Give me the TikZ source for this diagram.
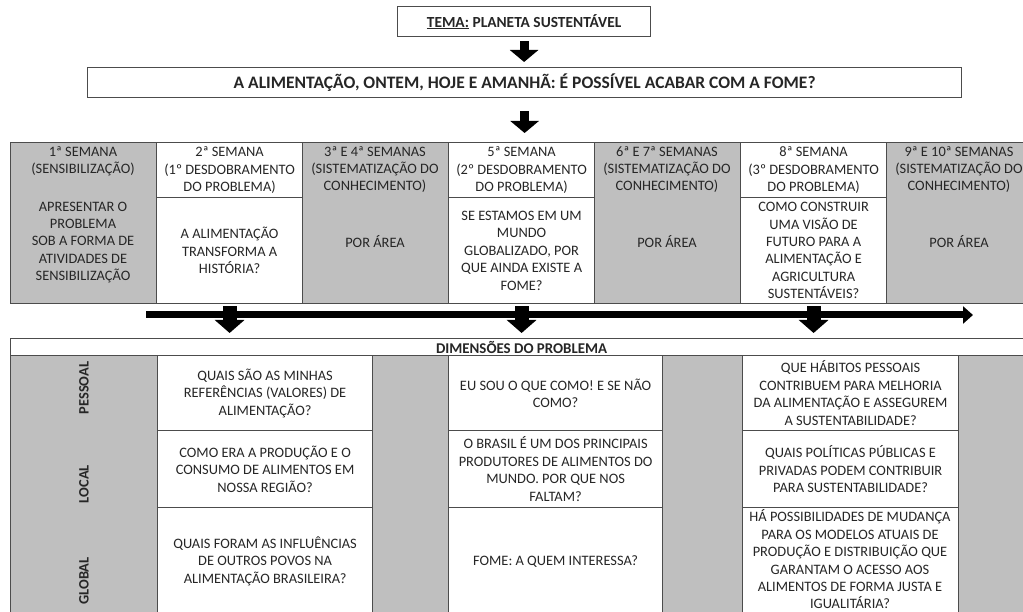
\documentclass[tikz,border=0pt]{standalone}
\usepackage{fontspec}
\setmainfont{Carlito}
\usepackage{xcolor}
\usetikzlibrary{arrows.meta}

\definecolor{cinza}{HTML}{BFBFBF}
\newcommand{\cellfont}{\fontsize{14.4}{17.4}\selectfont}

\begin{document}
\begin{tikzpicture}[x=1pt,y=-1pt,
    every node/.style={font=\cellfont, text=black!85, align=center, inner sep=0pt},
    wcell/.style={draw=black!70, line width=1.2pt, fill=white, anchor=north west},
    gcell/.style={draw=black!70, line width=1.2pt, fill=cinza, anchor=north west},
    bigarrow/.style={line width=9pt, -{Triangle[width=28pt,length=12pt]}},
    downarrow/.style={line width=14pt, -{Triangle[width=29pt,length=13pt]}},
    timeline/.style={line width=7pt, -{Triangle[width=17pt,length=10pt]}}]
    \useasboundingbox (0,0) rectangle (1023,612);
    \clip (0,0) rectangle (1023,612);

    % Theme and main question
    \node[wcell, minimum width=253pt, minimum height=30pt, font=\fontsize{15.4}{18}\selectfont\bfseries] (tema) at (397,6)
        {\underline{TEMA:} PLANETA SUSTENTÁVEL};
    \node[wcell, minimum width=874pt, minimum height=30pt, font=\fontsize{17.5}{20}\selectfont\bfseries] (titulo) at (87,67)
        {A ALIMENTAÇÃO, ONTEM, HOJE E AMANHÃ: É POSSÍVEL ACABAR COM A FOME?};

    % Weeks: gray columns
    \foreach \i/\x in {1/10,3/302,5/594,7/886} {
      \node[gcell, minimum width=146pt, minimum height=161pt] (w\i) at (\x,142) {};
    }
    \node (w1h) at (83,161.5) {1ª SEMANA\\(SENSIBILIZAÇÃO)};
    \node (w1b) at (83,242.5) {APRESENTAR O\\PROBLEMA\\SOB A FORMA DE\\ATIVIDADES DE\\SENSIBILIZAÇÃO};
    \node (w3h) at (375,169.5) {3ª E 4ª SEMANAS\\(SISTEMATIZAÇÃO DO\\CONHECIMENTO)};
    \node (w3b) at (375,242) {POR ÁREA};
    \node (w5h) at (667,169.5) {6ª E 7ª SEMANAS\\(SISTEMATIZAÇÃO DO\\CONHECIMENTO)};
    \node (w5b) at (667,242) {POR ÁREA};
    \node (w7h) at (959,169.5) {9ª E 10ª SEMANAS\\(SISTEMATIZAÇÃO DO\\CONHECIMENTO)};
    \node (w7b) at (959,242) {POR ÁREA};

    % Weeks: white columns (unfolding of the problem)
    \node[wcell, minimum width=146pt, minimum height=55pt] (w2h) at (156,142)
        {2ª SEMANA\\(1º DESDOBRAMENTO\\DO PROBLEMA)};
    \node[wcell, minimum width=146pt, minimum height=106pt] (w2b) at (156,197)
        {A ALIMENTAÇÃO\\TRANSFORMA A\\HISTÓRIA?};
    \node[wcell, minimum width=146pt, minimum height=55pt] (w4h) at (448,142)
        {5ª SEMANA\\(2º DESDOBRAMENTO\\DO PROBLEMA)};
    \node[wcell, minimum width=146pt, minimum height=106pt] (w4b) at (448,197)
        {SE ESTAMOS EM UM\\MUNDO\\GLOBALIZADO, POR\\QUE AINDA EXISTE A\\FOME?};
    \node[wcell, minimum width=146pt, minimum height=55pt] (w6h) at (740,142)
        {8ª SEMANA\\(3º DESDOBRAMENTO\\DO PROBLEMA)};
    \node[wcell, minimum width=146pt, minimum height=106pt] (w6b) at (740,197)
        {COMO CONSTRUIR\\UMA VISÃO DE\\FUTURO PARA A\\ALIMENTAÇÃO E\\AGRICULTURA\\SUSTENTÁVEIS?};

    % Dimensions of the problem
    \node[wcell, minimum width=1022pt, minimum height=17pt, font=\fontsize{14.9}{17.4}\selectfont\bfseries] (dimhead) at (10,338)
        {DIMENSÕES DO PROBLEMA};
    \node[gcell, minimum width=147pt, minimum height=259pt] (dim0) at (10,355) {};
    \node[gcell, minimum width=76pt, minimum height=259pt] (dim1) at (372,355) {};
    \node[gcell, minimum width=80pt, minimum height=259pt] (dim2) at (662,355) {};
    \node[gcell, minimum width=74pt, minimum height=259pt] (dim3) at (958,355) {};

    \node[rotate=90, font=\cellfont\bfseries] (pes) at (84,388) {PESSOAL};
    \node[rotate=90, font=\cellfont\bfseries] (loc) at (84,484) {LOCAL};
    \node[rotate=90, font=\cellfont\bfseries] (glo) at (84,581) {GLOBAL};

    % row: pessoal
    \node[wcell, minimum width=215pt, minimum height=75pt] (pa) at (157,355)
        {QUAIS SÃO AS MINHAS\\REFERÊNCIAS (VALORES) DE\\ALIMENTAÇÃO?};
    \node[wcell, minimum width=214pt, minimum height=75pt] (pb) at (448,355)
        {EU SOU O QUE COMO! E SE NÃO\\COMO?};
    \node[wcell, minimum width=216pt, minimum height=75pt] (pc) at (742,355)
        {QUE HÁBITOS PESSOAIS\\CONTRIBUEM PARA MELHORIA\\DA ALIMENTAÇÃO E ASSEGUREM\\A SUSTENTABILIDADE?};
    % row: local
    \node[wcell, minimum width=215pt, minimum height=77pt] (la) at (157,430)
        {COMO ERA A PRODUÇÃO E O\\CONSUMO DE ALIMENTOS EM\\NOSSA REGIÃO?};
    \node[wcell, minimum width=214pt, minimum height=77pt] (lb) at (448,430)
        {O BRASIL É UM DOS PRINCIPAIS\\PRODUTORES DE ALIMENTOS DO\\MUNDO. POR QUE NOS\\FALTAM?};
    \node[wcell, minimum width=216pt, minimum height=77pt] (lc) at (742,430)
        {QUAIS POLÍTICAS PÚBLICAS E\\PRIVADAS PODEM CONTRIBUIR\\PARA SUSTENTABILIDADE?};
    % row: global
    \node[wcell, minimum width=215pt, minimum height=107pt] (ga) at (157,507)
        {QUAIS FORAM AS INFLUÊNCIAS\\DE OUTROS POVOS NA\\ALIMENTAÇÃO BRASILEIRA?};
    \node[wcell, minimum width=214pt, minimum height=107pt] (gb) at (448,507)
        {FOME: A QUEM INTERESSA?};
    \node[wcell, minimum width=216pt, minimum height=107pt] (gc) at (742,507) {};
    \node (gctxt) at (850,559.5)
        {HÁ POSSIBILIDADES DE MUDANÇA\\PARA OS MODELOS ATUAIS DE\\PRODUÇÃO E DISTRIBUIÇÃO QUE\\GARANTAM O ACESSO AOS\\ALIMENTOS DE FORMA JUSTA E\\IGUALITÁRIA?};

    % Arrows
    \draw[bigarrow, shorten <=4pt, shorten >=5pt] (tema.south) -- (tema.south |- titulo.north);
    \draw[bigarrow, shorten <=13pt, shorten >=9pt] (titulo.south) -- (titulo.south |- w4h.north);

    \coordinate (barL) at (146,315);
    \coordinate (barR) at (973,315);
    \draw[timeline] (barL) -- (barR);
    \foreach \c in {w2b,w4b,w6b} {
      \draw[downarrow, shorten <=2pt, shorten >=5pt] (\c.south) -- (\c.south |- dimhead.north);
    }
\end{tikzpicture}
\end{document}
